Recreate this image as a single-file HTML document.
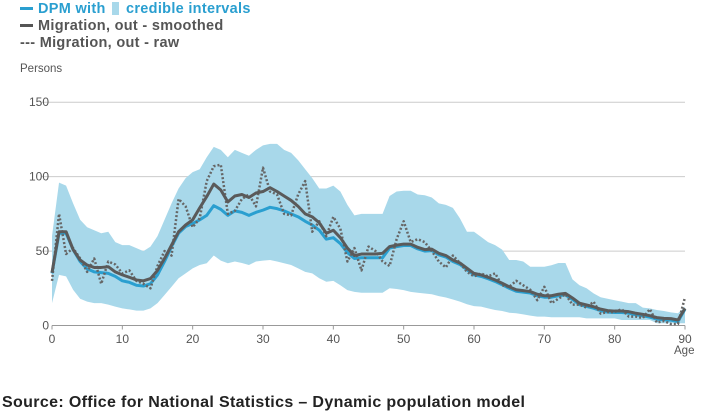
<!DOCTYPE html>
<html><head><meta charset="utf-8"><style>
body{margin:0;background:#fff;width:705px;height:415px;overflow:hidden;font-family:"Liberation Sans",sans-serif}
</style></head><body>
<svg id="c" width="705" height="415">
<g font-weight="bold" font-size="14.5" letter-spacing="0.3">
<rect x="20" y="7" width="13" height="3" fill="#2a9fd0"/>
<text x="38" y="13" fill="#2a9fd0">DPM with</text>
<rect x="112" y="2" width="7" height="13" fill="#a8d8ea"/>
<text x="126" y="13" fill="#2a9fd0">credible intervals</text>
<rect x="20" y="24" width="13" height="3" fill="#555"/>
<text x="38" y="30" fill="#555">Migration, out - smoothed</text>
<text x="20" y="47" fill="#555">--- Migration, out - raw</text>
</g>
<text x="20" y="72" font-size="11.5" fill="#555">Persons</text>
<text x="674" y="354" font-size="11.5" fill="#555">Age</text>
<text x="2" y="407" font-size="16" font-weight="bold" fill="#222" letter-spacing="0.35">Source: Office for National Statistics – Dynamic population model</text>
<g id="grid"></g><g id="band"></g><g id="lines"></g><g id="ticks"></g>
</svg>
<script>
const ages=[];for(let i=0;i<=90;i++)ages.push(i);
const upper=[60,96,94,82,71,66,64,62,63,56,54,54,52,50,53,60,71,82,92,99,103,105,113,120,118,113,118,116,114,118,121,122,122,118,116,111,105,99,92,92,94,90,81,74,75,75,75,75,87,90,90.5,90.5,88,87.5,86,82,81,79,72,63,63,59.5,56,54,51,44,44,43,39.5,39.5,39.5,40.5,42,42,31,27,25,21.6,19,18,17,16,15,15,12,11.5,10.4,9.7,8.8,8.2,12.6];
const lower=[15,34,33,24,18,16,15,15,14,12.7,11.5,10.8,10,10,11.5,15,20.5,26,31.7,35,38.4,40.6,41.8,47,43.6,41.8,43,42,40.6,43,43.6,44,43,41.8,40.6,38.4,36,35,31.7,29.4,30,27,23.8,22.6,22,22,22,22,25,24.5,23.8,22.6,22,21.5,21,19.7,18.8,17.5,16,14.3,13,12.7,11.5,10.4,9.7,8.6,8.2,7.5,6.6,6,6,5.5,5.5,5.5,5.5,5.5,4.8,4.8,4.8,4.8,4.8,3.7,3.7,3.7,3.7,3.7,1.5,1.5,1.5,1.5,1.5];
const smoothed=[35.5,63,63,51,44,40.6,39,39,39.5,36,34,32.4,30.6,30,31.5,37,45,54,63,67.5,71,79,86.6,95,91,83,87,88,86,89,90,92.6,90,87,84,80,75,73,69,62,64,59,52,47,48,48,48,48.5,53,54,54.7,54.7,52.5,51,51.3,48.5,47,44,42,38.5,35,34,32.4,30.6,28.4,26,24,23.4,22.8,21,20,20,21,21.6,18.5,15,13.8,12.6,11,10,9.7,9.7,9.3,8.2,7.5,6.6,5.3,4.8,4.6,3.7,11.5];
const dpm=[35,62,62,51,43,38,36,35.5,35,33,30,29,27,26.5,28,34,43,53,62,66.5,68.5,71,74,80.5,78,74,77,76,74,76,77.5,79.4,78.5,77,75,73,70,67.5,64,58,59,55,49,45,45.5,45.5,45.5,45.5,52,53,53.7,53.7,51.5,50,50.3,47.5,46,43,41,37.5,34,33,31.4,29.6,27.4,25,23,22.4,21.8,20,19,19,20,20.6,17.5,14,12.8,11.6,10,9,8.7,8.7,8.3,7.2,6.5,5.6,4.3,3.8,3.6,2.7,11];
const raw=[30,75,48,52,45,36,45,28,43,41,35,37,30,28,25,40,50,47,85,80,66,72,97,107,108,75,77,85,88,80,106,90,88,75,74,88,97,63,70,60,73,65,43,52,37,53,50,43,40,58,70,56,58,56,50,43,39,47,42,36,33,35,33,35,27,26,30,27,24,17,26,15,18,21,14,14,12,16,8,9,9,11,6,6,5,11,2,3,1,1,19];
const yTicks=[0,50,100,150], xTicks=[0,10,20,30,40,50,60,70,80,90];
const X=a=>52+a*(633/90), Y=v=>325.5-v*(223.3/150);
const NS='http://www.w3.org/2000/svg';
function mk(t,p,at){const e=document.createElementNS(NS,t);for(const k in at)e.setAttribute(k,at[k]);p.appendChild(e);return e;}
const grid=document.getElementById('grid'),tk=document.getElementById('ticks');
yTicks.forEach(v=>{
 if(v>0){const l=mk('line',grid,{x1:42,x2:685,y1:Y(v),y2:Y(v),stroke:'#ccc','stroke-width':1});
 
 }
 const t=mk('text',tk,{x:49,y:Y(v)+4,'text-anchor':'end','font-size':12,fill:'#555'});t.textContent=v;
 
 
});
const ax=mk('line',grid,{x1:52,x2:685,y1:Y(0),y2:Y(0),stroke:'#999','stroke-width':1});


xTicks.forEach(a=>{
 mk('line',tk,{x1:X(a),x2:X(a),y1:Y(0),y2:Y(0)+4,stroke:'#999'});
 const t=mk('text',tk,{x:X(a),y:343,'text-anchor':'middle','font-size':12,fill:'#555'});t.textContent=a;
 
 
});
let d='M'+ages.map(a=>X(a)+','+Y(upper[a])).join('L')+'L'+ages.slice().reverse().map(a=>X(a)+','+Y(lower[a])).join('L')+'Z';
const b=mk('path',document.getElementById('band'),{d:d,fill:'#a8d8ea'});


const L=document.getElementById('lines');
function line(arr,st){return mk('path',L,Object.assign({d:'M'+ages.map(a=>X(a)+','+Y(arr[a])).join('L'),fill:'none','stroke-linejoin':'round'},st));}
const l1=line(dpm,{stroke:'#2a9fd0','stroke-width':3});


const l3=line(raw,{stroke:'#666','stroke-width':2.5,'stroke-dasharray':'2,2'});


const l2=line(smoothed,{stroke:'#5a5a5a','stroke-width':3});


</script>
</body></html>
